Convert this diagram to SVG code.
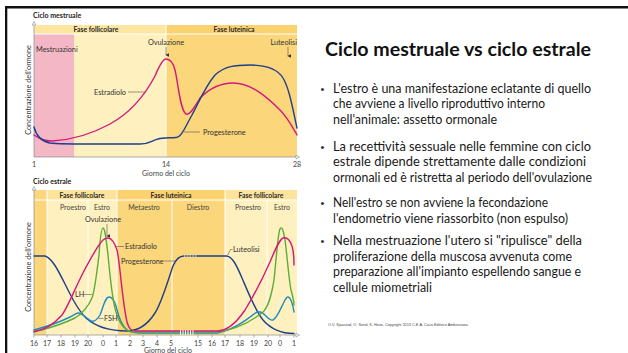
<svg xmlns="http://www.w3.org/2000/svg" width="628" height="353" viewBox="0 0 628 353">
<defs>
<style>
.lbl{font-family:Lato,"Liberation Sans",sans-serif;font-size:7.3px;fill:#333}
.hdr{font-family:Lato,"Liberation Sans",sans-serif;font-size:6.8px;font-weight:bold;fill:#2a2a2a}
.sub{font-family:Lato,"Liberation Sans",sans-serif;font-size:7px;fill:#444}
.tick{font-family:Lato,"Liberation Sans",sans-serif;font-size:7px;fill:#444}
.ttl{font-family:Lato,"Liberation Sans",sans-serif;font-size:7px;font-weight:bold;fill:#222}
.ax{stroke:#8a8a8a;stroke-width:0.7;fill:none}
.ld{stroke:#555;stroke-width:0.6;fill:none}
.wl{stroke:#fff;stroke-width:1;fill:none}
.cv{fill:none;stroke-width:1.4;stroke-linecap:round;stroke-linejoin:round}
.e2{stroke:#d4187c}
.p4{stroke:#1d3f8c}
.lh{stroke:#5aae35}
.fsh{stroke:#1e8cc3}
.body{font-family:Lato,"Liberation Sans",sans-serif;font-size:12.5px;fill:#1a1a1a}
.bul{font-family:"Liberation Sans",sans-serif;font-size:11px;fill:#333}
.tip{fill:#fff;stroke:#8a8a8a;stroke-width:0.6}
</style>
<marker id="ah" viewBox="0 0 6 6" refX="3" refY="5" markerWidth="4" markerHeight="4" orient="auto-start-reverse" markerUnits="userSpaceOnUse">
<path d="M0,0 L6,0 L3,6 Z" fill="#333"/>
</marker>
</defs>
<rect x="0" y="0" width="628" height="353" fill="#fff"/>
<g id="frame">
<rect x="5" y="6" width="623" height="2.5" fill="#111"/>
<rect x="5" y="6" width="2.3" height="347" fill="#111"/>
</g>

<g id="chart-mestruale">
<text class="ttl" x="33" y="17.5">Ciclo mestruale</text>
<rect x="34" y="25" width="132" height="9" fill="#fde7a0"/>
<rect x="166" y="25" width="131" height="9" fill="#fbd26f"/>
<rect x="34" y="34" width="40" height="123" fill="#f3b7c6"/>
<rect x="74" y="34" width="92" height="123" fill="#fef0bf"/>
<rect x="166" y="34" width="131" height="123" fill="#fcd67b"/>
<line class="wl" x1="34" y1="34" x2="297" y2="34"/>
<line class="wl" x1="166" y1="25" x2="166" y2="157"/>
<text class="hdr" x="96" y="31.5" text-anchor="middle">Fase follicolare</text>
<text class="hdr" x="234" y="31.5" text-anchor="middle">Fase luteinica</text>
<path class="ax" d="M34,157 L34,24 M34,157 L297,157"/>
<path class="tip" d="M32.2,25 L34,21.5 L35.8,25 Z"/>
<path class="tip" d="M296,155.2 L299.5,157 L296,158.8 Z"/>
<text class="lbl" x="36" y="51.5">Mestruazioni</text>
<text class="lbl" x="166" y="44.5" text-anchor="middle">Ovulazione</text>
<line class="ld" x1="166" y1="47" x2="166" y2="55" marker-end="url(#ah)"/>
<text class="lbl" x="297" y="44.5" text-anchor="end">Luteolisi</text>
<line class="ld" x1="288" y1="47" x2="288" y2="56" marker-end="url(#ah)"/>
<path class="cv e2" d="M34,135 C40,139 44,141 52,141 C70,140 90,135 110,124 C130,113 145,95 155,76 C160,64 163,59 166,59 C170,59 173,62 175,70 C178,82 180,110 186,114 C190,116 195,106 200,98 C210,88 220,83 233,83 C250,83 265,95 280,110 C288,118 293,128 297,135"/>
<path class="cv p4" d="M34,127 C36,135 40,141 50,143 C60,144.5 100,144 140,144 C150,144 153,140 158,139 C163,137.5 168,138 176,137.5 C182,137 186,125 192,115 C200,100 205,87 215,75 C225,66 235,65 250,65 C265,65 277,68 283,78 C289,88 292,105 297,128"/>
<text class="lbl" x="94" y="94.5">Estradiolo</text>
<line class="ld" x1="128" y1="92" x2="145" y2="92"/>
<text class="lbl" x="203" y="134.5">Progesterone</text>
<line class="ld" x1="184" y1="132" x2="200" y2="132"/>
<text class="tick" x="34" y="166.5" text-anchor="middle">1</text>
<text class="tick" x="166" y="166.5" text-anchor="middle">14</text>
<text class="tick" x="297" y="166.5" text-anchor="middle">28</text>
<text class="tick" x="166" y="175.5" text-anchor="middle">Giorno del ciclo</text>
<text class="lbl" transform="translate(30.5,90) rotate(-90)" text-anchor="middle">Concentrazione dell'ormone</text>
</g>

<g id="chart-estrale">
<text class="ttl" x="33" y="183.5">Ciclo estrale</text>
<rect x="34" y="190" width="13" height="145" fill="#fcd67b"/>
<rect x="47" y="190" width="70" height="10" fill="#fde49c"/>
<rect x="47" y="200" width="70" height="135" fill="#fef0bf"/>
<rect x="117" y="190" width="108" height="10" fill="#fbd26f"/>
<rect x="117" y="200" width="108" height="135" fill="#fcd67b"/>
<rect x="225" y="190" width="72" height="10" fill="#fde49c"/>
<rect x="225" y="200" width="72" height="135" fill="#fef0bf"/>
<line class="wl" x1="34" y1="200" x2="297" y2="200"/>
<path class="wl" d="M47,190 V335 M117,190 V335 M225,190 V335 M88,200 V335 M172,200 V335 M267,200 V335"/>
<text class="hdr" x="82" y="197.5" text-anchor="middle">Fase follicolare</text>
<text class="hdr" x="171" y="197.5" text-anchor="middle">Fase luteinica</text>
<text class="hdr" x="261" y="197.5" text-anchor="middle">Fase follicolare</text>
<text class="sub" x="73" y="209.5" text-anchor="middle">Proestro</text>
<text class="sub" x="102" y="209.5" text-anchor="middle">Estro</text>
<text class="sub" x="144" y="209.5" text-anchor="middle">Metaestro</text>
<text class="sub" x="198" y="209.5" text-anchor="middle">Diestro</text>
<text class="sub" x="248" y="209.5" text-anchor="middle">Proestro</text>
<text class="sub" x="282" y="209.5" text-anchor="middle">Estro</text>
<path class="ax" d="M34,335 L34,189 M34,335 L297,335"/>
<path class="tip" d="M32.2,190 L34,186.5 L35.8,190 Z"/>
<path class="tip" d="M296,333.2 L299.5,335 L296,336.8 Z"/>
<path class="ax" d="M34,335v2.5M47,335v2.5M61,335v2.5M75,335v2.5M88,335v2.5M103,335v2.5M116,335v2.5M130,335v2.5M143,335v2.5M157,335v2.5M171,335v2.5M198,335v2.5M212,335v2.5M225,335v2.5M240,335v2.5M254,335v2.5M268,335v2.5M280,335v2.5M294,335v2.5"/>
<path class="cv p4" d="M34,256 L45,256 C52,258 58,270 65,284 C72,298 78,310 86,318 C95,326 110,331 127,331 C140,331 148,324 155,313 C162,302 168,280 173,266 C176,259 179,256 184,256 L226,256 C232,256 236,264 242,278 C248,292 255,310 263,320 C270,328 280,333.5 294,333.5"/>
<path class="cv fsh" d="M34,330 C45,327 60,322 70,317 C74,315 76,313 78,313 C82,313 86,318 91,321 C94,322 97,320 100,315 C103,308 105,297 109,297 C112,297 114,300 116,306 C118,315 121,325 127,330 C130,332.5 133,333 140,333 L217,333 C235,330 248,318 257,312 C260,311 262,312 265,315 C268,318 270,321 273,320 C277,318 280,310 284,302 C286,298 287,297 288,297 C290,297 292,300 294,312"/>
<path class="cv lh" d="M34,332 C50,328 65,323 75,318 C83,313 88,307 92,298 C95,290 97,270 99,255 C100,240 101,228 103,228 C105,228 106,238 108,255 C110,275 112,300 116,312 C119,322 124,331 133,332 L217,332 C235,330 250,322 262,313 C268,308 271,298 274,280 C276,262 278,232 280,229 C282,226 283,229 285,240 C287,255 289,280 291,290 C293,297 294,303 294,305"/>
<path class="cv e2" d="M34,331.5 C46,330 55,323 62,315 C68,307 76,286 84,271 C90,260 97,246 103,240 C105,238.5 107,238 108,238 C111,238 114,241 117,250 C120,262 122,300 127,322 C129,329 131,331 136,331 L217,331 C226,331 235,325 245,310 C253,297 262,280 270,262 C275,250 279,240 283,238 C287,237 290,240 292,246 C294,252 294,258 294,265"/>
<path d="M184,256 H198" stroke="#fff" stroke-width="1.2" stroke-dasharray="1.4 1.4" fill="none"/>
<path d="M180.5,330 V335 M183,330 V335 M185.5,330 V335 M188,330 V335 M190.5,330 V335 M193,330 V335" stroke="#fff" stroke-width="0.9" fill="none"/>
<text class="lbl" x="103" y="221.5" text-anchor="middle">Ovulazione</text>
<line class="ld" x1="107" y1="224" x2="107" y2="236" marker-end="url(#ah)"/>
<text class="lbl" x="125" y="249">Estradiolo</text>
<line class="ld" x1="116" y1="246.5" x2="124" y2="246.5"/>
<text class="lbl" x="121" y="263.5">Progesterone</text>
<line class="ld" x1="164" y1="261" x2="175" y2="261"/>
<text class="lbl" x="233" y="251.5">Luteolisi</text>
<path class="ld" d="M227.5,255.5 L230.5,249.5 L232.5,249.5"/>
<text class="lbl" x="75" y="297">LH</text>
<line class="ld" x1="84" y1="294.5" x2="92" y2="294.5"/>
<text class="lbl" x="104" y="321">FSH</text>
<line class="ld" x1="98.5" y1="318.5" x2="103.5" y2="318.5"/>
<g class="tick" text-anchor="middle">
<text x="34" y="345.5">16</text><text x="47" y="345.5">17</text><text x="61" y="345.5">18</text><text x="75" y="345.5">19</text><text x="88" y="345.5">20</text><text x="103" y="345.5">0</text><text x="116" y="345.5">1</text><text x="130" y="345.5">2</text><text x="143" y="345.5">3</text><text x="157" y="345.5">4</text><text x="171" y="345.5">5</text><text x="198" y="345.5">15</text><text x="212" y="345.5">16</text><text x="225" y="345.5">17</text><text x="240" y="345.5">18</text><text x="254" y="345.5">19</text><text x="268" y="345.5">20</text><text x="280" y="345.5">0</text><text x="294" y="345.5">1</text>
</g>
<text class="tick" x="168" y="352.5" text-anchor="middle">Giorno del ciclo</text>
<text class="lbl" transform="translate(30.5,267) rotate(-90)" text-anchor="middle">Concentrazione dell'ormone</text>
</g>

<g id="slide-text">
<text x="325" y="56" font-family="Lato,'Liberation Sans',sans-serif" font-size="19" font-weight="bold" fill="#111" textLength="266" lengthAdjust="spacingAndGlyphs">Ciclo mestruale vs ciclo estrale</text>
<g id="bullet-1">
<text class="bul" x="320.5" y="92.5">•</text>
<text class="body" x="333" y="92.5" textLength="258" lengthAdjust="spacingAndGlyphs">L'estro è una manifestazione eclatante di quello</text>
<text class="body" x="333" y="108" textLength="212" lengthAdjust="spacingAndGlyphs">che avviene a livello riproduttivo interno</text>
<text class="body" x="333" y="123.5" textLength="164" lengthAdjust="spacingAndGlyphs">nell'animale: assetto ormonale</text>
</g>
<g id="bullet-2">
<text class="bul" x="320.5" y="150.5">•</text>
<text class="body" x="333" y="150.5" textLength="258" lengthAdjust="spacingAndGlyphs">La recettività sessuale nelle femmine con ciclo</text>
<text class="body" x="333" y="166" textLength="253" lengthAdjust="spacingAndGlyphs">estrale dipende strettamente dalle condizioni</text>
<text class="body" x="333" y="181.5" textLength="259" lengthAdjust="spacingAndGlyphs">ormonali ed è ristretta al periodo dell'ovulazione</text>
</g>
<g id="bullet-3">
<text class="bul" x="320.5" y="206.5">•</text>
<text class="body" x="333" y="206.5" textLength="215" lengthAdjust="spacingAndGlyphs">Nell'estro se non avviene la fecondazione</text>
<text class="body" x="333" y="222.5" textLength="235" lengthAdjust="spacingAndGlyphs">l'endometrio viene riassorbito (non espulso)</text>
</g>
<g id="bullet-4">
<text class="bul" x="320.5" y="245">•</text>
<text class="body" x="333" y="245" textLength="249" lengthAdjust="spacingAndGlyphs">Nella mestruazione l'utero si "ripulisce" della</text>
<text class="body" x="333" y="260.5" textLength="239" lengthAdjust="spacingAndGlyphs">proliferazione della muscosa avvenuta come</text>
<text class="body" x="333" y="276" textLength="248" lengthAdjust="spacingAndGlyphs">preparazione all'impianto espellendo sangue e</text>
<text class="body" x="333" y="291.5" textLength="99" lengthAdjust="spacingAndGlyphs">cellule miometriali</text>
</g>
<text x="328" y="325.5" font-family="'Liberation Sans',sans-serif" font-size="4.3" fill="#444" textLength="140" lengthAdjust="spacingAndGlyphs">O.V. Sjaastad, O. Sand, K. Hove, Copyright 2013 C.E.A. Casa Editrice Ambrosiana</text>
</g>
</svg>
